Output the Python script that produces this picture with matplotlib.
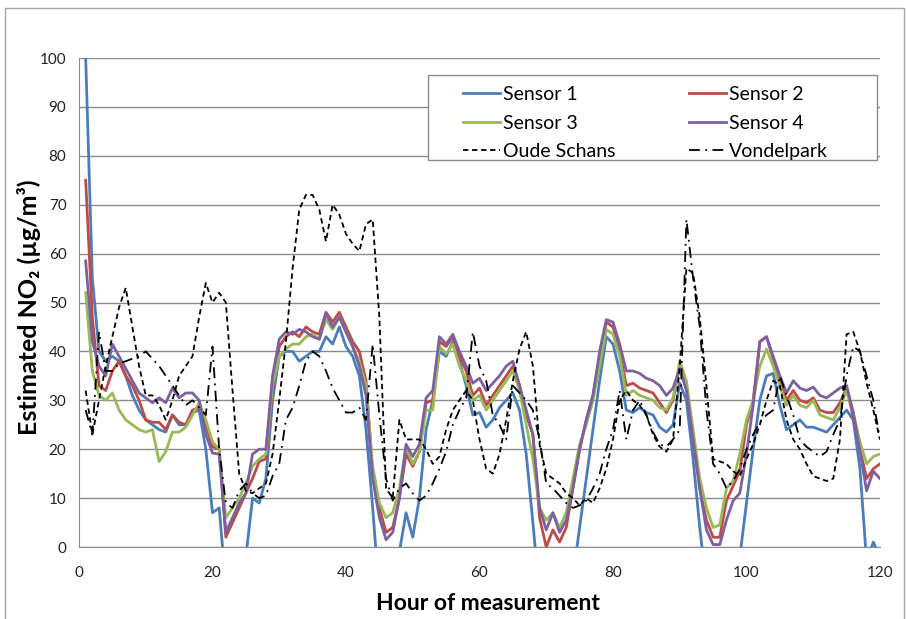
import numpy as np
import matplotlib.pyplot as plt
from matplotlib.patches import Rectangle

plt.rcParams['font.family'] = ['Lato', 'DejaVu Sans']

# Hourly NO2 estimates, hours 1..120
hours = np.arange(1, 121)

sensor1 = [100, 55, 40, 38, 39, 38, 35, 31, 28, 26,
           25, 24, 23.5, 27, 25, 25, 27.5, 28, 20, 7,
           8, -8, -12, -10, -2, 10, 9, 14, 30, 39,
           40, 40, 38, 39, 40, 40, 43, 41.5, 45, 41,
           39, 35, 24, 8, -10, -12, -8, -1, 7, 2,
           10, 24, 30, 40, 39, 42, 38, 33, 27, 27.5,
           24.5, 26, 28.5, 30, 31.5, 28, 19, 5, -10, -12,
           -12, -12, -10, -6, 4, 14, 24, 34, 43, 41.5,
           36, 28, 27.5, 28.5, 27.5, 27, 24.5, 23.5, 25, 33.5,
           30, 18, 4, -8, -12, -12, -10, -6, -2, 9,
           20, 30, 35, 35.5, 29, 24, 25, 26, 24.5, 24.5,
           24, 23.5, 25, 26.5, 28, 26, 16, -3, 1, -2]

sensor2 = [75, 47, 33, 32, 36, 38, 35, 33, 30, 26,
           25.5, 25.5, 24, 27, 25.5, 25, 28, 28.5, 25, 20.5,
           20, 2, 5, 8, 11, 14, 17.5, 18, 32, 41,
           43, 44, 43, 45, 44, 43.5, 48, 46, 48, 45,
           42, 40, 34, 15, 8, 3, 4, 10, 19, 16.5,
           19.5, 29.5, 30, 42, 41, 43, 39, 36, 31, 32.5,
           29, 31, 33, 35, 37, 33, 27, 23, 6, 0,
           3.5, 1, 4, 12, 20, 26, 31, 39, 46, 45,
           40, 33, 33.5, 32.5, 32, 31.5, 29.5, 27.5, 30, 37,
           33, 22, 12, 5.5, 2, 2, 9.5, 12.5, 15.5, 25,
           30, 42, 43, 38.5, 34, 30, 32, 30, 29.5, 30.5,
           28, 27.5, 27.5, 29.5, 32.5, 26.5, 20, 14, 16, 17]

sensor3 = [52, 36, 31, 30, 31.5, 28, 26, 25, 24, 23.5,
           24, 17.5, 19.5, 23.5, 23.5, 24.5, 27, 29.5, 26, 21.5,
           20, 6, 8, 10, 13, 16.5, 18, 19, 33, 39,
           40.5, 41.5, 41.5, 43, 43.5, 42.5, 46.5, 44.5, 47, 44,
           41, 38, 33, 16.5, 9, 6, 7, 12, 20.5, 17,
           19.5, 28, 28, 41, 39.5, 41.5, 37, 34, 30, 31,
           28, 30, 32, 34, 36, 32, 25, 18, 8, 5.5,
           7, 4, 7, 14, 21, 25, 30, 37, 44.5, 43.5,
           39, 31, 32, 31, 30.5, 30, 28.5, 28, 30.5, 38,
           34, 24, 14, 8, 4, 4.5, 12, 13.5, 19, 26,
           30, 37, 40.5, 37, 33, 29, 31, 29, 28.5, 30,
           27, 26.5, 26, 28.5, 32, 27.5, 21.5, 17, 18.5, 19]

sensor4 = [58.5, 42, 37, 35, 41.5, 39, 36.5, 34, 31.5, 30.5,
           29.5, 30.5, 29.5, 32.5, 30.5, 31.5, 31.5, 30, 23, 19.2,
           19, 3, 6, 9, 11, 19, 20, 20, 35, 42.5,
           44, 43.5, 44.5, 44, 43, 42.5, 47.8, 45, 47, 44,
           41, 37, 31, 14, 6, 1.5, 3, 10, 21, 18.5,
           21, 30.5, 32, 43, 41.5, 43.5, 40, 37, 33.5, 34.5,
           32, 33.5, 35, 37, 38, 33, 28, 23, 8, 3.5,
           7, 3, 5.5, 12, 20, 26, 31, 40, 46.5, 46,
           41.5, 36, 36, 35.5, 34.5, 34, 33, 31, 32.5, 36.5,
           32, 22, 12, 3.5, 0.5, 0.5, 5.5, 9.5, 11, 19,
           29, 42, 43, 39, 35, 31.5, 34, 32.5, 32, 32.7,
           31, 30.5, 31.5, 32.5, 33, 27.5, 19.5, 11.5, 15.5, 14]

oude_schans = [32, 23, 30, 37, 43, 49, 53, 45, 37, 31,
               31, 29, 26, 30, 35, 37, 39, 47, 54, 50,
               52, 50, 32, 15, 11.5, 11, 12, 13, 19, 30,
               42, 57, 69, 72, 72, 69, 62.5, 70, 68, 64,
               62, 60.5, 66, 67, 47, 12, 10, 26, 22, 22,
               22, 20, 17, 18.5, 24, 28, 30, 32, 30, 22,
               16, 15, 19, 26, 34, 40.5, 44, 37, 21, 15,
               14, 13, 11, 10, 8.5, 10, 9, 12, 16, 22,
               30, 32, 30, 29, 27, 23, 20.5, 19.5, 22, 37,
               57, 56, 47, 33, 18, 17.5, 17, 15.5, 14.5, 18,
               21, 25, 30, 34, 33, 26, 22, 20, 17, 14.5,
               14, 13.5, 14, 22, 43.5, 44, 40, 33.5, 28, 22]

vondelpark = [28, 23, 44, 36, 36, 37.5, 38, 38.5, 39, 40,
              38.5, 37, 35, 33, 31, 29, 30, 28.5, 27, 41,
              20, 9, 8, 11.5, 13, 11, 10, 10.5, 14.5, 17,
              26, 28.5, 33, 38, 40, 39, 36, 32.5, 30, 27.5,
              27.5, 28.5, 26, 41.5, 27, 14, 9.5, 12, 13, 11,
              9.5, 10.5, 13, 16, 19.5, 25, 28, 30.5, 44, 37,
              34, 27, 25, 22, 33, 31.5, 30, 28, 22, 13,
              12, 10.5, 9, 8, 8.5, 9.5, 12, 15, 20, 24,
              32, 22, 28, 30, 27, 23.5, 21, 20.5, 22, 24,
              67, 55, 45, 28, 17, 15, 12, 13.5, 16, 20,
              23, 25.5, 27, 28, 35, 31, 27, 22, 20.5, 19.5,
              18.5, 19.5, 23, 26, 35, 41, 40, 35, 30, 22]

fig = plt.figure(figsize=(9.07, 6.19), dpi=100)
ax = fig.add_axes([0.0871, 0.1163, 0.8831, 0.79])

# chart area frame
fig.patches.append(Rectangle((5 / 907, -0.01), 899 / 907, 1 - 8 / 619 + 0.01,
                             transform=fig.transFigure, fill=False,
                             edgecolor='#a6a6a6', lw=1))

lw = 2.0
l1, = ax.plot(hours, sensor1, color='#4a7ebb', lw=lw, label='Sensor 1')
l2, = ax.plot(hours, sensor2, color='#be4b48', lw=lw, label='Sensor 2')
l3, = ax.plot(hours, sensor3, color='#98b954', lw=lw, label='Sensor 3')
l4, = ax.plot(hours, sensor4, color='#7d60a0', lw=lw, label='Sensor 4')
l5, = ax.plot(hours, oude_schans, color='black', lw=1.3, ls=(0, (3, 2)), label='Oude Schans')
l6, = ax.plot(hours, vondelpark, color='black', lw=1.3, ls=(0, (6, 3, 1, 3)), label='Vondelpark')

ax.set_xlim(0, 120)
ax.set_ylim(0, 100)
ax.set_xticks(np.arange(0, 121, 20))
ax.set_yticks(np.arange(0, 101, 10))
ax.grid(axis='y', color='#8c8c8c', lw=1)
ax.set_axisbelow(True)
for side in ('top', 'right'):
    ax.spines[side].set_visible(False)
for side in ('left', 'bottom'):
    ax.spines[side].set_color('#8c8c8c')
ax.tick_params(length=0, labelsize=11, colors='#222222')
ax.tick_params(axis='x', pad=14)
ax.tick_params(axis='y', pad=9)

ax.set_xlabel('Hour of measurement', fontsize=16.5, fontweight='bold', va='center')
ax.set_ylabel('Estimated NO₂ (µg/m³)', fontsize=18, fontweight='bold', va='center')
ax.xaxis.set_label_coords(0.51, -0.1145)
ax.yaxis.set_label_coords(-0.0624, 0.49)

# legend box, then the entries laid out row by row
ax.add_patch(Rectangle((428 / 907, 1 - 160 / 619), 449 / 907, 85 / 619,
                       transform=fig.transFigure, facecolor='white',
                       edgecolor='#8c8c8c', lw=1, zorder=5, clip_on=False))
leg = ax.legend([l1, l3, l5, l2, l4, l6],
                ['Sensor 1', 'Sensor 3', 'Oude Schans', 'Sensor 2', 'Sensor 4', 'Vondelpark'],
                ncol=2, loc='upper left', bbox_to_anchor=(0.479, 0.943),
                fontsize=14, frameon=False, handlelength=1.9,
                handletextpad=0.15, borderpad=0, labelspacing=0.6,
                columnspacing=3.8, borderaxespad=0)
leg.set_zorder(6)

fig.savefig('out.png', dpi=100)
